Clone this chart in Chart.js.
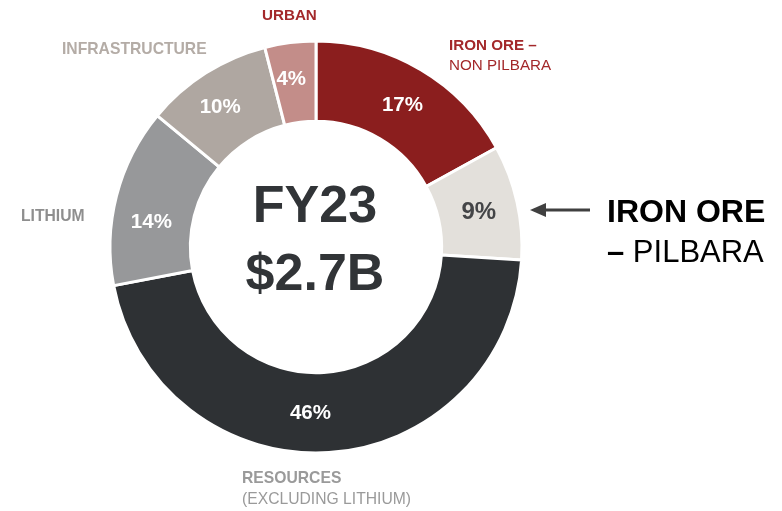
<!DOCTYPE html>
<html>
<head>
<meta charset="utf-8">
<script src="https://cdn.jsdelivr.net/npm/chart.js@4"></script>
<style>
  html, body { margin: 0; padding: 0; background: #ffffff; }
  #wrap { position: relative; width: 782px; height: 511px; }
</style>
</head>
<body>
<div id="wrap"><canvas id="revenueChart"></canvas></div>
<script>
// Revenue split FY23
const segments = [
  "Iron Ore – Non Pilbara",
  "Iron Ore – Pilbara",
  "Resources (excluding Lithium)",
  "Lithium",
  "Infrastructure",
  "Urban",
];
const shares = [17, 9, 46, 14, 10, 4];
const shareLabels = ["17%", "9%", "46%", "14%", "10%", "4%"];
const centerLines = ["FY23", "$2.7B"];

const sliceColors = ["#8b1e1e", "#e3e0db", "#2e3134", "#97989a", "#afa7a1", "#c38d89"];
const FONT = '"Liberation Sans", Arial, sans-serif';

// percentage labels inside each slice (small nudges where the original was hand placed)
const sliceLabels = {
  id: "sliceLabels",
  afterDatasetsDraw(chart) {
    const ctx = chart.ctx;
    const arcs = chart.getDatasetMeta(0).data;
    const nudge = [[2, 1], [1, 2], [-16, 1], [-4, 17], [-7, 0], [-4, -3]];
    ctx.save();
    ctx.textAlign = "center";
    ctx.textBaseline = "middle";
    arcs.forEach((arc, i) => {
      const p = arc.getCenterPoint();
      const dark = i === 1;
      ctx.fillStyle = dark ? "#444547" : "#ffffff";
      ctx.font = "bold " + (dark ? 24 : 20.5) + "px " + FONT;
      ctx.fillText(shareLabels[i], p.x + nudge[i][0], p.y + nudge[i][1]);
    });

    // centre text
    const c = arcs[0];
    ctx.fillStyle = "#313437";
    ctx.font = "bold 52px " + FONT;
    ctx.fillText(centerLines[0], c.x - 1, c.y - 39);
    ctx.fillText(centerLines[1], c.x - 1, c.y + 29);
    ctx.restore();
  },
};

// category names around the ring
const outerLabels = {
  id: "outerLabels",
  afterDraw(chart) {
    const ctx = chart.ctx;
    ctx.save();
    ctx.textBaseline = "middle";
    ctx.textAlign = "left";
    const put = (txt, x, y, color, weight, size) => {
      ctx.fillStyle = color;
      ctx.font = weight + " " + size + "px " + FONT;
      ctx.fillText(txt, x, y);
      return ctx.measureText(txt).width;
    };
    put("URBAN", 262, 16, "#a3282a", "bold", 15.2);
    put("IRON ORE –", 449, 46, "#a3282a", "bold", 15.2);
    put("NON PILBARA", 449, 66, "#a3282a", "normal", 15.2);
    put("INFRASTRUCTURE", 62, 50, "#b4aca6", "bold", 15.7);
    put("LITHIUM", 21, 217, "#8e8e8e", "bold", 15.7);
    put("RESOURCES", 242, 479, "#9a9a9a", "bold", 15.7);
    put("(EXCLUDING LITHIUM)", 242, 500, "#9a9a9a", "normal", 15.7);

    // Pilbara callout
    put("IRON ORE", 607, 213, "#000000", "bold", 32);
    const w = put("– ", 607, 253, "#000000", "bold", 31);
    put("PILBARA", 607 + w, 253, "#000000", "normal", 31);

    // arrow pointing at the 9% slice
    ctx.strokeStyle = "#404040";
    ctx.fillStyle = "#404040";
    ctx.lineWidth = 3;
    ctx.beginPath();
    ctx.moveTo(590, 210);
    ctx.lineTo(542, 210);
    ctx.stroke();
    ctx.beginPath();
    ctx.moveTo(530, 210);
    ctx.lineTo(546, 203);
    ctx.lineTo(546, 217);
    ctx.closePath();
    ctx.fill();
    ctx.restore();
  },
};

const revenueCanvas = document.getElementById("revenueChart");
new Chart(revenueCanvas, {
  type: "doughnut",
  data: {
    labels: segments,
    datasets: [
      {
        data: shares,
        backgroundColor: sliceColors,
        borderColor: "#ffffff",
        borderWidth: 3,
        hoverOffset: 0,
      },
    ],
  },
  options: {
    responsive: true,
    maintainAspectRatio: false,
    animation: false,
    cutout: "61%",
    rotation: 0,
    layout: {
      padding: { left: 108.5, right: 258.5, top: 39.5, bottom: 56.5 },
    },
    plugins: {
      legend: { display: false },
      tooltip: { enabled: false },
    },
  },
  plugins: [sliceLabels, outerLabels],
});
</script>
</body>
</html>
